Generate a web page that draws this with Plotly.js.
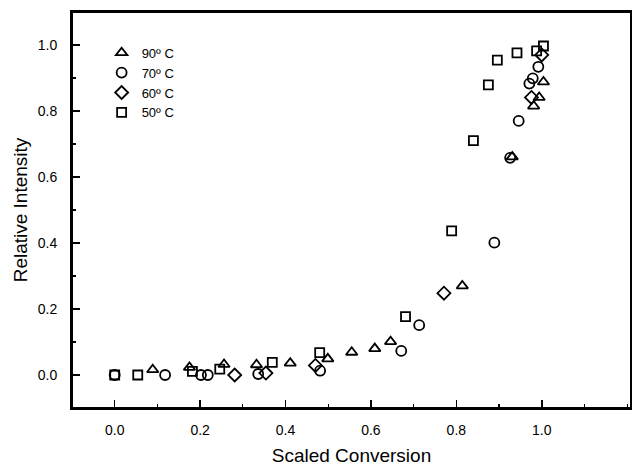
<!DOCTYPE html>
<html>
<head>
<meta charset="utf-8">
<script src="https://cdn.plot.ly/plotly-3.0.1.min.js"></script>
<style>html,body{margin:0;padding:0;background:#fff;}#chart{width:632px;height:467px;}</style>
</head>
<body>
<div id="chart"></div>
<script>
// 90º C (triangles)
const x90 = [0.089, 0.175, 0.256, 0.332, 0.411, 0.499, 0.555, 0.609, 0.646, 0.814, 0.931, 0.981, 0.994, 1.004];
const y90 = [0.016, 0.023, 0.032, 0.031, 0.036, 0.049, 0.069, 0.080, 0.101, 0.270, 0.661, 0.815, 0.841, 0.888];
// 70º C (circles)
const x70 = [0.0, 0.118, 0.202, 0.218, 0.336, 0.481, 0.671, 0.713, 0.889, 0.926, 0.946, 0.971, 0.979, 0.992];
const y70 = [0.0, 0.0, 0.0, 0.0, 0.003, 0.013, 0.073, 0.151, 0.401, 0.658, 0.770, 0.883, 0.899, 0.934];
// 60º C (diamonds)
const x60 = [0.281, 0.354, 0.470, 0.771, 0.976, 1.0];
const y60 = [0.0, 0.006, 0.029, 0.248, 0.841, 0.970];
// 50º C (squares)
const x50 = [0.0, 0.054, 0.182, 0.246, 0.369, 0.480, 0.681, 0.789, 0.840, 0.875, 0.896, 0.942, 0.988, 1.004];
const y50 = [0.0, 0.0, 0.011, 0.018, 0.038, 0.068, 0.177, 0.437, 0.710, 0.879, 0.954, 0.976, 0.982, 0.997];
const names = ['90º C', '70º C', '60º C', '50º C'];
const tickVals = [0.0, 0.2, 0.4, 0.6, 0.8, 1.0];
const tickText = ['0.0', '0.2', '0.4', '0.6', '0.8', '1.0'];

const font = 'Liberation Sans, Arial, Helvetica, sans-serif';
function tr(x, y, name, sym, size) {
  return {x: x, y: y, name: name, type: 'scatter', mode: 'markers',
    marker: {symbol: sym, size: size, color: '#000', line: {color: '#000', width: 1.8}}};
}
const data = [
  tr(x90, y90, names[0], 'triangle-up-open', 10),
  tr(x70, y70, names[1], 'circle-open', 10),
  tr(x60, y60, names[2], 'diamond-open', 10),
  tr(x50, y50, names[3], 'square-open', 9)
];
function axis(range, standoff, title, tstand) {
  return {
    range: range,
    showgrid: false, zeroline: false, showline: true, linecolor: '#000', linewidth: 2,
    mirror: true, ticks: 'inside', ticklen: 8, tickwidth: 1.5, tickcolor: '#000',
    tickmode: 'array', tickvals: tickVals.slice(), ticktext: tickText.slice(),
    ticklabelstandoff: standoff,
    tickfont: {family: font, size: 14, color: '#000'},
    minor: {dtick: 0.1, tick0: 0, ticks: 'inside', ticklen: 4, tickwidth: 1.2, tickcolor: '#000'},
    title: {text: title, font: {family: font, size: 19, color: '#000'}, standoff: tstand}
  };
}
const layout = {
  width: 632, height: 467,
  margin: {l: 72, r: 1, t: 12, b: 59},
  paper_bgcolor: '#fff', plot_bgcolor: '#fff',
  showlegend: true,
  legend: {x: 0.053, y: 0.935, xanchor: 'left', yanchor: 'top', bgcolor: 'rgba(0,0,0,0)',
    font: {family: font, size: 13, color: '#000'}, tracegroupgap: 0},
  xaxis: axis([-0.1, 1.209], 8, 'Scaled Conversion', 12),
  yaxis: axis([-0.1, 1.1], 10, 'Relative Intensity', 5),
  shapes: [{type: 'rect', xref: 'paper', yref: 'paper', x0: 0, x1: 1, y0: 0, y1: 1,
    line: {color: '#000', width: 2}, fillcolor: 'rgba(0,0,0,0)', layer: 'above'}]
};
Plotly.newPlot('chart', data, layout, {displayModeBar: false, staticPlot: true});
</script>
</body>
</html>
